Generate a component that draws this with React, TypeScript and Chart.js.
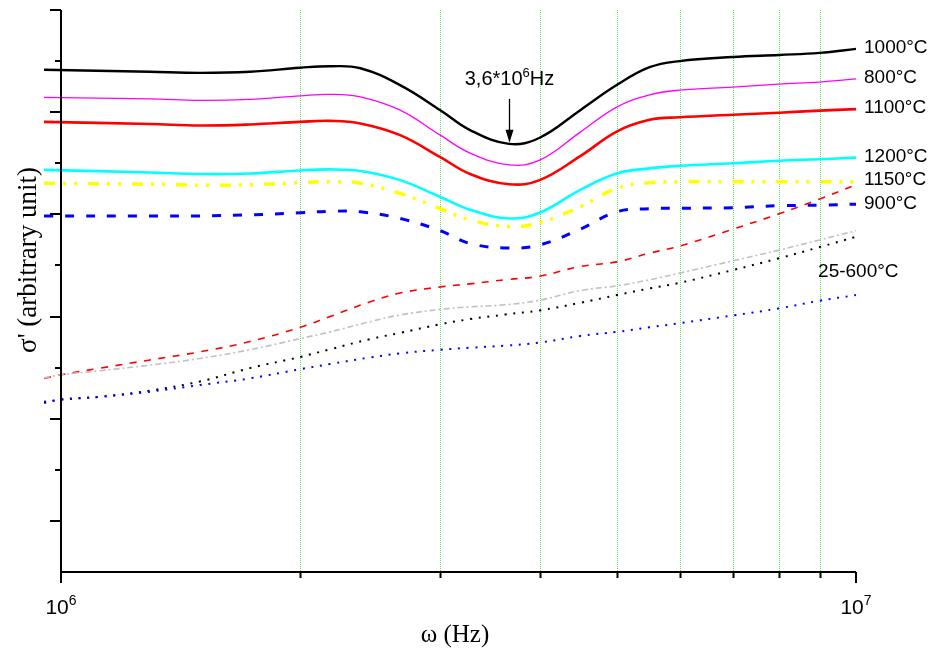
import { useEffect, useRef } from 'react';
import { Chart, registerables } from 'chart.js';

Chart.register(...registerables);

// Frequencies (Hz) at which the 800–1200 °C curves are sampled
const freqUpper = [
  0.952e6, 1.294e6, 1.496e6, 1.728e6, 2e6, 2.18e6, 2.38e6, 2.67e6, 3e6, 3.27e6,
  3.66e6, 4e6, 4.5e6, 5e6, 5.5e6, 6e6, 7e6, 8e6, 9e6, 1e7,
];

// σ' (arbitrary unit) for the sintered samples
const sigma1000 = [9.83, 9.79, 9.77, 9.79, 9.87, 9.9, 9.86, 9.53, 9.04, 8.65, 8.38, 8.5, 9.04, 9.53, 9.88, 10.0, 10.08, 10.12, 10.16, 10.24];
const sigma800 = [9.29, 9.26, 9.23, 9.25, 9.32, 9.35, 9.3, 9.04, 8.55, 8.2, 7.97, 8.06, 8.61, 9.1, 9.34, 9.43, 9.49, 9.55, 9.59, 9.65];
const sigma1100 = [8.81, 8.77, 8.74, 8.76, 8.81, 8.83, 8.78, 8.55, 8.12, 7.79, 7.59, 7.67, 8.14, 8.62, 8.85, 8.9, 8.95, 8.99, 9.03, 9.06];
const sigma1200 = [7.87, 7.82, 7.79, 7.8, 7.86, 7.88, 7.85, 7.67, 7.34, 7.09, 6.92, 7.03, 7.48, 7.8, 7.9, 7.95, 8.0, 8.05, 8.08, 8.11];
const sigma1150 = [7.61, 7.59, 7.57, 7.58, 7.62, 7.64, 7.61, 7.41, 7.11, 6.89, 6.76, 6.84, 7.15, 7.51, 7.62, 7.64, 7.64, 7.64, 7.64, 7.64];
const sigma900 = [6.97, 6.97, 6.97, 6.99, 7.03, 7.06, 7.05, 6.92, 6.68, 6.43, 6.34, 6.4, 6.71, 7.05, 7.11, 7.12, 7.13, 7.17, 7.18, 7.2];

// Frequencies (Hz) for the 25–600 °C family
const freqLower = [
  0.952e6, 1e6, 1.12e6, 1.294e6, 1.496e6, 1.728e6, 2e6, 2.18e6, 2.45e6, 2.67e6, 3e6,
  3.27e6, 3.62e6, 4e6, 4.5e6, 5e6, 5.5e6, 6e6, 7e6, 8e6, 9e6, 1e7,
];
const sigmaLowRed = [3.79, 3.86, 3.99, 4.15, 4.31, 4.51, 4.79, 5.0, 5.29, 5.46, 5.58, 5.64, 5.72, 5.79, 5.98, 6.07, 6.24, 6.38, 6.71, 7.01, 7.3, 7.58];
const sigmaLowGray = [3.8, 3.86, 3.94, 4.05, 4.18, 4.35, 4.57, 4.7, 4.9, 5.03, 5.14, 5.19, 5.23, 5.32, 5.51, 5.6, 5.72, 5.85, 6.09, 6.3, 6.5, 6.68];
const sigmaLowBlack = [3.31, 3.38, 3.43, 3.55, 3.73, 3.99, 4.21, 4.36, 4.56, 4.68, 4.85, 4.95, 5.04, 5.12, 5.27, 5.42, 5.55, 5.66, 5.91, 6.14, 6.36, 6.56];
const sigmaLowBlue = [3.33, 3.37, 3.43, 3.53, 3.66, 3.79, 3.97, 4.07, 4.2, 4.28, 4.35, 4.39, 4.43, 4.49, 4.62, 4.7, 4.79, 4.87, 5.02, 5.16, 5.31, 5.42];

// Axis ticks
const gridFreqs = [2e6, 3e6, 4e6, 5e6, 6e6, 7e6, 8e6, 9e6];
const decadeTicks = [1e6, 1e7];
const decadeExponents = ['6', '7'];
const yTicks = [0, 1, 2, 3, 4, 5, 6, 7, 8, 9, 10, 11];

// Curve labels at the right-hand side
const labelTexts = ['1000°C', '800°C', '1100°C', '1200°C', '1150°C', '900°C'];
const labelLevels = [10.27, 9.68, 9.09, 8.12, 7.67, 7.2];
const familyLabel = '25-600°C';
const familyLabelFreq = 8.96e6;
const familyLabelLevel = 5.87;

// Resonance marker
const dipFreq = 3.66e6;
const dipText = '3,6*10';
const dipExp = '6';
const dipUnit = 'Hz';

const SANS = "'Liberation Sans', Arial, sans-serif";
const SERIF = "'Liberation Serif', 'Times New Roman', serif";

const pts = (xs: number[], ys: number[]) => xs.map((x, i) => ({ x, y: ys[i] }));

function drawPower(
  ctx: CanvasRenderingContext2D,
  base: string,
  exp: string,
  tail: string,
  cx: number,
  baseline: number,
  size: number,
  supSize: number,
  supRise: number,
) {
  ctx.font = `${size}px ${SANS}`;
  const wb = ctx.measureText(base).width;
  const wt = ctx.measureText(tail).width;
  ctx.font = `${supSize}px ${SANS}`;
  const we = ctx.measureText(exp).width;
  let x0 = cx - (wb + we + wt) / 2;
  ctx.textAlign = 'left';
  ctx.textBaseline = 'alphabetic';
  ctx.font = `${size}px ${SANS}`;
  ctx.fillText(base, x0, baseline);
  x0 += wb;
  ctx.font = `${supSize}px ${SANS}`;
  ctx.fillText(exp, x0, baseline - supRise);
  x0 += we;
  ctx.font = `${size}px ${SANS}`;
  ctx.fillText(tail, x0, baseline);
}

const frame = {
  id: 'frame',
  beforeDatasetsDraw(chart: any) {
    const { ctx, chartArea: a, scales } = chart;
    const x = scales.x;
    ctx.save();
    ctx.strokeStyle = '#4de84d';
    ctx.lineWidth = 1;
    ctx.setLineDash([1, 1]);
    for (const f of gridFreqs) {
      const px = Math.round(x.getPixelForValue(f)) + 0.5;
      ctx.beginPath();
      ctx.moveTo(px, a.top);
      ctx.lineTo(px, a.bottom);
      ctx.stroke();
    }
    ctx.restore();
  },
  afterDatasetsDraw(chart: any) {
    const { ctx, chartArea: a, scales } = chart;
    const x = scales.x;
    const y = scales.y;
    ctx.save();
    ctx.strokeStyle = '#000';
    ctx.fillStyle = '#000';
    ctx.lineWidth = 2;
    ctx.setLineDash([]);

    // axis lines
    ctx.beginPath();
    ctx.moveTo(a.left, a.top);
    ctx.lineTo(a.left, a.bottom);
    ctx.lineTo(a.right, a.bottom);
    ctx.stroke();

    // y ticks (outward)
    for (const v of yTicks) {
      if (v === 0) continue;
      const py = Math.round(y.getPixelForValue(v));
      const len = v % 2 === 1 ? 11 : 6;
      ctx.beginPath();
      ctx.moveTo(a.left, py);
      ctx.lineTo(a.left - len, py);
      ctx.stroke();
    }

    // x ticks: decades long, intermediate short
    for (const f of decadeTicks) {
      const px = Math.round(x.getPixelForValue(f));
      ctx.beginPath();
      ctx.moveTo(px, a.bottom);
      ctx.lineTo(px, a.bottom + 11);
      ctx.stroke();
    }
    for (const f of gridFreqs) {
      const px = Math.round(x.getPixelForValue(f)) + 0.5;
      ctx.beginPath();
      ctx.moveTo(px, a.bottom);
      ctx.lineTo(px, a.bottom + 6);
      ctx.stroke();
    }

    // decade labels
    decadeTicks.forEach((f, i) => {
      const px = x.getPixelForValue(f);
      drawPower(ctx, '10', decadeExponents[i], '', px, a.bottom + 42, 21, 14, 9);
    });

    // axis titles
    ctx.textAlign = 'center';
    ctx.textBaseline = 'alphabetic';
    ctx.font = `25px ${SERIF}`;
    ctx.fillText('ω (Hz)', 455, 642);
    ctx.save();
    ctx.translate(36, 260);
    ctx.rotate(-Math.PI / 2);
    ctx.font = `27px ${SERIF}`;
    ctx.fillText("σ' (arbitrary unit)", 0, 0);
    ctx.restore();

    // curve labels
    ctx.font = `19px ${SANS}`;
    ctx.textAlign = 'left';
    ctx.textBaseline = 'middle';
    labelTexts.forEach((t, i) => {
      ctx.fillText(t, a.right + 8, y.getPixelForValue(labelLevels[i]));
    });
    ctx.fillText(familyLabel, x.getPixelForValue(familyLabelFreq), y.getPixelForValue(familyLabelLevel));

    // resonance arrow
    const ax = Math.round(x.getPixelForValue(dipFreq)) + 0.5;
    const dipIndex = freqUpper.indexOf(dipFreq);
    const tip = y.getPixelForValue(sigma1000[dipIndex]) - 1;
    ctx.lineWidth = 1.3;
    ctx.beginPath();
    ctx.moveTo(ax, tip - 44);
    ctx.lineTo(ax, tip - 10);
    ctx.stroke();
    ctx.beginPath();
    ctx.moveTo(ax, tip);
    ctx.lineTo(ax - 4, tip - 13);
    ctx.lineTo(ax + 4, tip - 13);
    ctx.closePath();
    ctx.fill();
    drawPower(ctx, dipText, dipExp, dipUnit, ax, tip - 58, 20, 13, 8);

    ctx.restore();
  },
};

export default function App() {
  const ref = useRef<HTMLCanvasElement>(null);

  useEffect(() => {
    const canvas = ref.current;
    if (!canvas) return;
    const line = (label: string, xs: number[], ys: number[], color: string, width: number, dash: number[] = []) => ({
      label,
      data: pts(xs, ys),
      borderColor: color,
      backgroundColor: color,
      borderWidth: width,
      borderDash: dash,
      pointRadius: 0,
      fill: false,
      tension: 0.4,
      clip: false as const,
    });

    const chart = new Chart(canvas, {
      type: 'line',
      data: {
        datasets: [
          line('25-600°C (blue)', freqLower, sigmaLowBlue, '#0000ff', 2, [2, 6.7]),
          line('25-600°C (black)', freqLower, sigmaLowBlack, '#000000', 2, [2, 6.7]),
          line('25-600°C (gray)', freqLower, sigmaLowGray, '#c0c0c0', 1.6, [6, 3, 2, 3]),
          line('25-600°C (red)', freqLower, sigmaLowRed, '#ff0000', 1.6, [7, 7.5]),
          line('900°C', freqUpper, sigma900, '#0000ff', 3, [9, 12]),
          line('1150°C', freqUpper, sigma1150, '#ffff00', 3.5, [11, 8, 3, 8, 3, 11]),
          line('1200°C', freqUpper, sigma1200, '#00ffff', 2.6),
          line('1100°C', freqUpper, sigma1100, '#ff0000', 2.6),
          line('800°C', freqUpper, sigma800, '#ff00ff', 1.3),
          line('1000°C', freqUpper, sigma1000, '#000000', 2.4),
        ],
      },
      options: {
        responsive: false,
        animation: false,
        devicePixelRatio: 1,
        layout: { padding: { left: 61, right: 80, top: 10, bottom: 83 } },
        plugins: { legend: { display: false }, tooltip: { enabled: false } },
        scales: {
          x: { type: 'logarithmic', min: 1e6, max: 1e7, display: false },
          y: { type: 'linear', min: 0, max: 11, display: false },
        },
      },
      plugins: [frame],
    });
    return () => chart.destroy();
  }, []);

  return (
    <div style={{ position: 'fixed', left: 0, top: 0, width: 936, height: 655, background: '#fff' }}>
      <canvas ref={ref} width={936} height={655} style={{ width: 936, height: 655, display: 'block' }} />
    </div>
  );
}
